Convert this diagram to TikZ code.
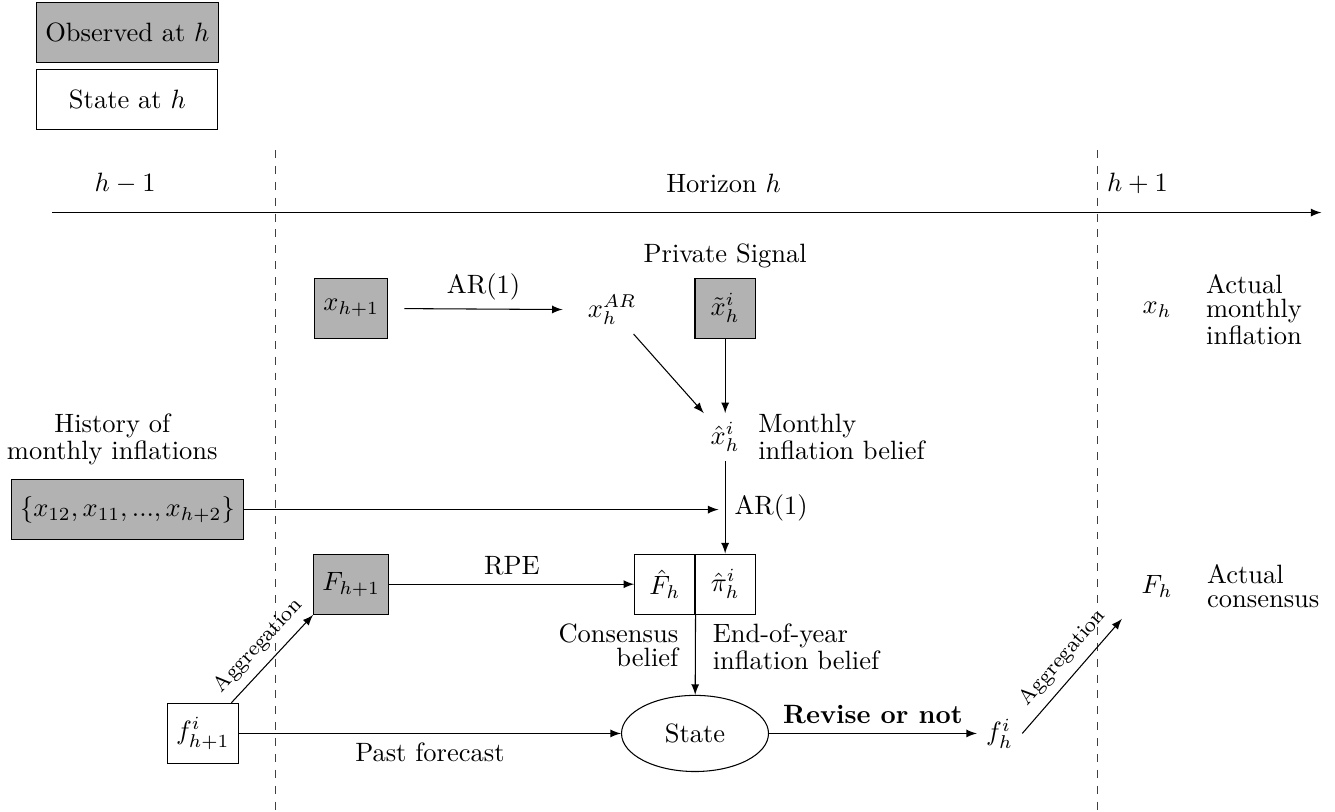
\documentclass[tikz,border=0pt]{standalone}
\usepackage{amsmath,amssymb}
\usepackage{tikz}
\usetikzlibrary{arrows.meta,calc,positioning,shapes.geometric}

\tikzset{
  obs/.style={draw, fill=gray!60, minimum size=0.8cm},
  statebox/.style={draw, fill=white, minimum size=0.8cm},
  note/.style={align=left, font=\linespread{0.75}\selectfont},
}

\begin{document}
\begin{tikzpicture}[>=latex]
\useasboundingbox (0,0) rectangle (17.71,10.76);
\node[obs, minimum width=2.4cm] (leg1) at (1.69,10.33) {Observed at $h$};
\node[statebox, minimum width=2.4cm] (leg2) at (1.69,9.44) {State at $h$};
\node (hm1) at (1.66,8.33) {$h-1$};
\node (hor) at (9.60,8.33) {Horizon $h$};
\node (hp1) at (15.09,8.33) {$h+1$};
\coordinate (t0) at (0.69,7.94);
\coordinate (t1) at (17.53,7.94);
\draw[->] (t0) -- (t1);
\draw[dashed, black!75] (3.66,8.77) -- (3.66,0);
\draw[dashed, black!75] (14.56,8.77) -- (14.56,0);

\node[obs] (xprev) at (4.66,6.67) {$x_{h+1}$};
\node (xar) at (8.12,6.65) {$x_h^{AR}$};
\node[obs, label=above:Private Signal] (xtil) at (9.62,6.67) {$\tilde{x}_h^i$};
\node (xhat) at (9.62,4.96) {$\hat{x}_h^i$};
\node[note, right=0pt of xhat] (xhatnote) {Monthly\\inflation belief};
\node[note, align=center] (histnote) at (1.49,4.93) {History of\\monthly inflations};
\node[obs, minimum width=3.06cm] (hist) at (1.69,4.00) {$\{x_{12},x_{11},...,x_{h+2}\}$};
\coordinate (merge) at (hist -| xhat);
\node[statebox] (fhat) at (8.82,3.01) {$\hat{F}_h$};
\node[statebox] (pihat) at (9.62,3.01) {$\hat{\pi}_h^i$};
\node[obs] (fprev) at (4.66,3.01) {$F_{h+1}$};
\node[note, align=right, anchor=north east, xshift=-3pt] (conslab) at (fhat.south east) {Consensus\\belief};
\node[note, anchor=north west, xshift=3pt] (eoylab) at (fhat.south east) {End-of-year\\inflation belief};
\node[ellipse, draw, minimum width=1.95cm, minimum height=1.01cm] (state) at (9.22,1.03) {State};
\node[statebox] (fi) at (2.69,1.03) {$f_{h+1}^i$};
\node (fh) at (13.26,1.03) {$f_h^i$};
\node (xh) at (15.35,6.65) {$x_h$};
\node[note, right=6pt of xh] (xhnote) {Actual\\monthly\\inflation};
\node (Fh) at (15.35,2.98) {$F_h$};
\node[note, right=6pt of Fh] (Fhnote) {Actual\\consensus};

\draw[->, shorten <=6pt, shorten >=6pt] (xprev) -- node[above] {AR(1)} (xar);
\draw[->] (xar) -- (xhat);
\draw[->] (xtil) -- (xhat);
\draw[->] (xhat) -- node[right] {AR(1)} (pihat);
\draw[->, shorten >=2.5pt] (hist) -- (merge);
\draw[->] (fprev) -- node[above] {RPE} (fhat);
\draw[->] (fhat.south east) -- (state);
\draw[->] (fi) -- node[below] {Past forecast} (state);
\draw[->] ($(fi.north east)+(-0.1,0)$) -- node[above, sloped, font=\footnotesize] {Aggregation} (fprev.south west);
\draw[->] (state) -- node[above] {\textbf{Revise or not}} (fh);
\draw[->, shorten >=6pt] (fh.east) -- node[above, sloped, font=\footnotesize] {Aggregation} (Fh.south west);
\end{tikzpicture}
\end{document}
